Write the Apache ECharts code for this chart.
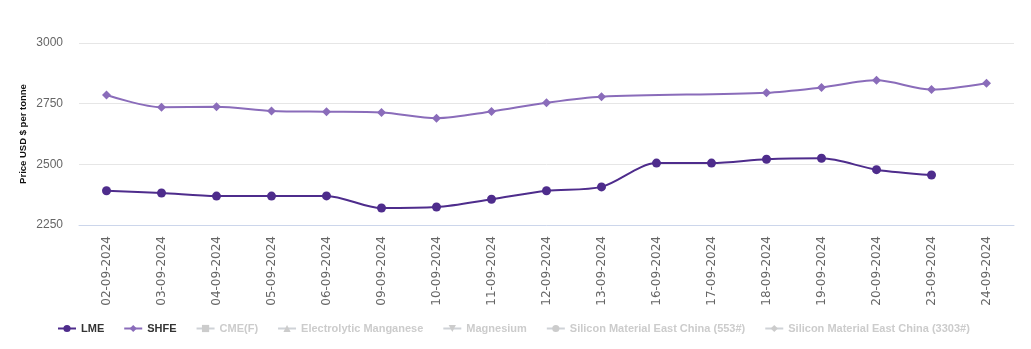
<!DOCTYPE html>
<html><head><meta charset="utf-8">
<script src="https://cdn.jsdelivr.net/npm/echarts@6/dist/echarts.min.js"></script>
<style>html,body{margin:0;padding:0;background:#fff}#c{width:1031px;height:349px}</style>
</head><body><div id="c"></div>
<script>
var categories = ['02-09-2024','03-09-2024','04-09-2024','05-09-2024','06-09-2024','09-09-2024','10-09-2024','11-09-2024','12-09-2024','13-09-2024','16-09-2024','17-09-2024','18-09-2024','19-09-2024','20-09-2024','23-09-2024','24-09-2024'];
var lmeValues = [2391,2382,2369,2369,2370,2320,2324,2356,2391,2407,2505,2505,2521,2525,2478,2456,null];
var shfeValues = [2786,2735,2737,2720,2717,2714,2690,2718,2754,2779,null,null,2795,2817,2846,2808,2834];
var yTicks = [2250,2500,2750,3000];
var inactiveSeries = [
  {name:'CME(F)', symbol:'rect'},
  {name:'Electrolytic Manganese', symbol:'triangle'},
  {name:'Magnesium', symbol:'triangle', rotate:180},
  {name:'Silicon Material East China (553#)', symbol:'circle'},
  {name:'Silicon Material East China (3303#)', symbol:'diamond'}
];
var chart = echarts.init(document.getElementById('c'));
var selected = {};
inactiveSeries.forEach(function(s){selected[s.name]=false;});
var series = [
  {name:'LME', type:'line', data:lmeValues, smooth:0.3, symbol:'circle', symbolSize:9,
   lineStyle:{width:2,color:'#4e2c8c'}, itemStyle:{color:'#4e2c8c'}, connectNulls:true},
  {name:'SHFE', type:'line', data:shfeValues, smooth:0.3, symbol:'diamond', symbolSize:9,
   lineStyle:{width:2,color:'#8a6cba'}, itemStyle:{color:'#8a6cba'}, connectNulls:true}
];
inactiveSeries.forEach(function(s){
  series.push({name:s.name, type:'line', data:[], symbol:s.symbol, symbolRotate:s.rotate||0, symbolSize:8,
    itemStyle:{color:'#ccc'}, lineStyle:{color:'#ccc',width:2}});
});
chart.setOption({
  animation:false,
  grid:{left:79, right:17, top:43, bottom:124},
  legend:{left:52, top:318, width:1000, itemGap:19, itemWidth:18, itemHeight:9, selected:selected,
    inactiveColor:'#cccccc',
    textStyle:{fontFamily:'"Liberation Sans", Arial, sans-serif', fontWeight:'bold', fontSize:11, color:'#333'},
    data:series.map(function(s){return s.name;})},
  xAxis:{type:'category', data:categories, boundaryGap:true,
    axisLine:{lineStyle:{color:'#ccd6eb'}}, axisTick:{show:false},
    axisLabel:{rotate:90, margin:11, fontSize:12, color:'#666', fontFamily:'DejaVu Sans', interval:0}},
  yAxis:{type:'value', min:yTicks[0], max:yTicks[yTicks.length-1], interval:250,
    name:'Price USD $ per tonne', nameLocation:'middle', nameGap:51, nameRotate:90, nameMoveOverlap:false,
    nameTextStyle:{fontSize:9.5, fontWeight:'bold', color:'#111', fontFamily:'"Liberation Sans", Arial, sans-serif'},
    axisLine:{show:false}, axisTick:{show:false},
    axisLabel:{fontSize:12, color:'#666', fontFamily:'"Liberation Sans", Arial, sans-serif', margin:16, formatter:function(v){return String(v);}},
    splitLine:{lineStyle:{color:'#e6e6e6'}}},
  series:series
});
</script></body></html>
